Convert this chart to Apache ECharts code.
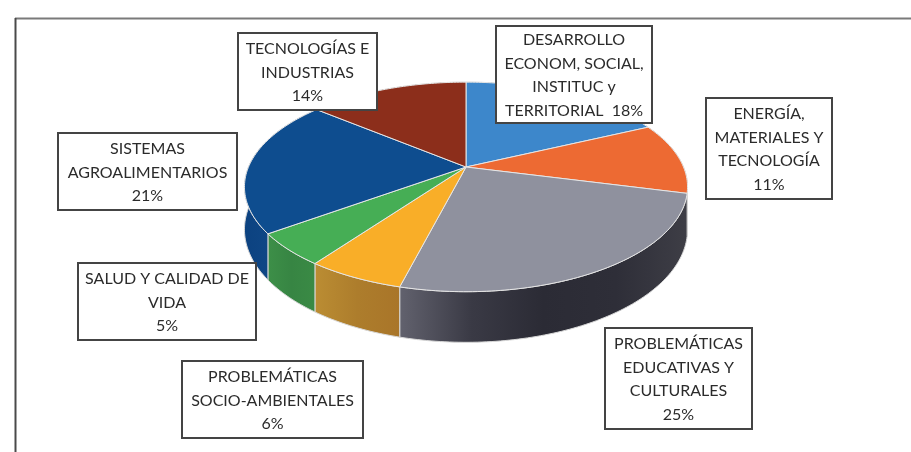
<!DOCTYPE html>
<html>
<head>
<meta charset="utf-8">
<style>html,body{margin:0;padding:0;background:#fff}#c{width:911px;height:452px}</style>
<script src="https://cdn.jsdelivr.net/npm/echarts@6/dist/echarts.min.js"></script>
</head>
<body>
<div id="c"></div>
<script>
// --- data ---
const categories = [
  'DESARROLLO\nECONOM, SOCIAL,\nINSTITUC y\nTERRITORIAL  {p}%',
  'ENERGÍA,\nMATERIALES Y\nTECNOLOGÍA\n{p}%',
  'PROBLEMÁTICAS\nEDUCATIVAS Y\nCULTURALES\n{p}%',
  'PROBLEMÁTICAS\nSOCIO-AMBIENTALES\n{p}%',
  'SALUD Y CALIDAD DE\nVIDA\n{p}%',
  'SISTEMAS\nAGROALIMENTARIOS\n{p}%',
  'TECNOLOGÍAS E\nINDUSTRIAS\n{p}%'
];
const values = [18, 11, 25, 6, 5, 21, 14];

// --- styles and layout ---
const topColors = ['#3d87cb', '#ed6a33', '#8f919e', '#f9ae28', '#46ae55', '#0e4d8f', '#8c2e1b'];
const wallStops = [
  ['#2a6496', '#2a6496'],
  ['#a84a24', '#a84a24'],
  ['#62626e', '#3a3a45', '#2b2b35', '#2e2e38', '#3e3e46'],
  ['#bb8d33', '#ad7d2c', '#a97529'],
  ['#3d8f48', '#378543', '#3a8a45'],
  ['#0c4280', '#154f90'],
  ['#642112', '#642112']
];
const labelBoxes = [
  [496, 26, 652, 123], [706, 98, 832, 199], [605, 328, 752, 429],
  [182, 361, 363, 438], [78, 263, 256, 340], [58, 133, 237, 210], [238, 33, 377, 110]
];
const pieView = { cx: 466, cy: 167, a: 217.5, b: 101, k: 0.19, h: 41 };

const total = values.reduce((s, v) => s + v, 0);
const starts = values.map((_, i) => values.slice(0, i).reduce((s, v) => s + v, 0));

// Perspective projection of the circular pie (t: fraction of the full circle, clockwise from 12 o'clock)
function project(t, lowered) {
  const th = t * 2 * Math.PI, x = Math.sin(th), y = -Math.cos(th);
  const d = 1 - pieView.k * y;
  return [
    pieView.cx + pieView.a * x / d,
    pieView.cy + pieView.b * y / d + (lowered ? pieView.h / d : 0)
  ];
}
function arc(i, lowered) {
  const f0 = starts[i] / total, f1 = (starts[i] + values[i]) / total, pts = [];
  const n = Math.max(2, Math.ceil((f1 - f0) * 360));
  for (let j = 0; j <= n; j++) pts.push(project(f0 + (f1 - f0) * j / n, lowered));
  return pts;
}
const seriesData = values.map(v => [v]);

const option = {
  animation: false,
  backgroundColor: '#ffffff',
  graphic: [
    { type: 'line', silent: true, shape: { x1: 15, y1: 18.5, x2: 911, y2: 18.5 }, style: { stroke: '#7a7a7a', lineWidth: 2 } },
    { type: 'line', silent: true, shape: { x1: 15.5, y1: 18, x2: 15.5, y2: 452 }, style: { stroke: '#4a4a4a', lineWidth: 2 } }
  ],
  series: [
    {
      type: 'custom', coordinateSystem: 'none', silent: true, z: 1, data: seriesData,
      renderItem(params) {
        const i = params.dataIndex;
        const pts = arc(i, false).concat(arc(i, true).reverse());
        const stops = wallStops[i].map((c, s, all) => ({ offset: s / (all.length - 1), color: c }));
        return {
          type: 'polygon',
          shape: { points: pts },
          style: { fill: new echarts.graphic.LinearGradient(0, 0, 1, 0, stops), stroke: '#d8d8d8', lineWidth: 1 }
        };
      }
    },
    {
      type: 'custom', coordinateSystem: 'none', silent: true, z: 2, data: seriesData,
      renderItem(params) {
        const i = params.dataIndex;
        return {
          type: 'polygon',
          shape: { points: [[pieView.cx, pieView.cy]].concat(arc(i, false)) },
          style: { fill: topColors[i], stroke: '#e6e6e6', lineWidth: 1, lineJoin: 'round' }
        };
      }
    },
    {
      type: 'custom', coordinateSystem: 'none', silent: true, z: 3, data: seriesData,
      renderItem(params, api) {
        const i = params.dataIndex, b = labelBoxes[i];
        return {
          type: 'group',
          children: [
            { type: 'rect', shape: { x: b[0], y: b[1], width: b[2] - b[0], height: b[3] - b[1] },
              style: { fill: '#ffffff', stroke: '#444444', lineWidth: 2 } },
            { type: 'text', style: {
                x: (b[0] + b[2]) / 2, y: (b[1] + b[3]) / 2 + 1,
                text: categories[i].replace('{p}', api.value(0)),
                align: 'center', verticalAlign: 'middle',
                font: '16px Lato, "Open Sans", sans-serif', lineHeight: 23.5, fill: '#2b2b2b'
            } }
          ]
        };
      }
    }
  ]
};
echarts.init(document.getElementById('c'), null, { renderer: 'canvas' }).setOption(option);
</script>
</body>
</html>
